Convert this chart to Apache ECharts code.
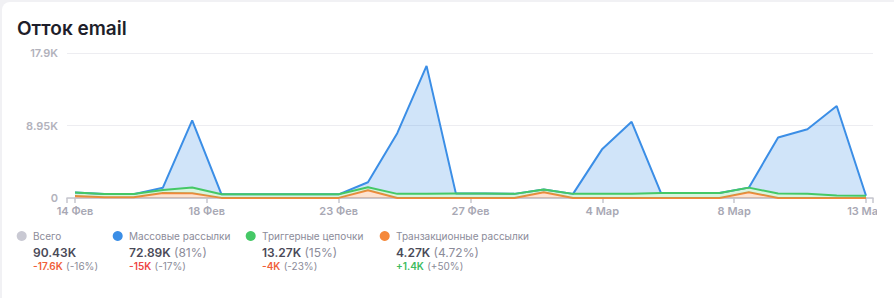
<!DOCTYPE html>
<html><head><meta charset="utf-8">
<script src="https://cdn.jsdelivr.net/npm/echarts@6/dist/echarts.min.js"></script>
<style>
html,body{margin:0;padding:0;width:894px;height:298px;overflow:hidden;background:#f1f1f4;}
#card{position:absolute;left:2px;top:2px;width:892px;height:296px;background:#fff;border-top-left-radius:8px;}
#clip{position:absolute;left:0;top:0;width:877px;height:298px;overflow:hidden;}
#chart{position:absolute;left:0;top:0;width:894px;height:298px;}
</style></head><body><div id="card"></div><div id="clip"><div id="chart"></div></div>
<script>
const dates = ['14 Фев','15 Фев','16 Фев','17 Фев','18 Фев','19 Фев','20 Фев','21 Фев','22 Фев','23 Фев','24 Фев','25 Фев','26 Фев','27 Фев','28 Фев',
  '1 Мар','2 Мар','3 Мар','4 Мар','5 Мар','6 Мар','7 Мар','8 Мар','9 Мар','10 Мар','11 Мар','12 Мар','13 Мар'];
const transValues   = [250,100,90,620,600,15,15,15,15,15,960,10,10,10,10,10,720,10,10,10,10,10,10,720,10,10,10,10];
const triggerValues = [440,400,390,370,690,440,440,440,440,440,370,500,500,560,560,500,320,500,500,500,620,620,620,560,540,500,290,270];
const massValues    = [0,0,0,280,8300,0,0,0,0,0,620,7490,15800,0,0,0,0,0,5550,8900,0,0,0,0,6910,7980,11050,0];
const yTickLabels = ['0','8.95K','17.9K'];
const titleText = 'Отток email';
const legendNames = ['Всего','Массовые рассылки','Триггерные цепочки','Транзакционные рассылки'];
const legendTotals = ['90.43K','72.89K','13.27K','4.27K'];
const legendShares = ['','(81%)','(15%)','(4.72%)'];
const legendDeltas = ['-17.6K','-15K','-4K','+1.4K'];
const legendDeltaPct = ['(-16%)','(-17%)','(-23%)','(+50%)'];

const FONT = 'Inter, "Noto Sans", sans-serif';
const legendColors = ['#c9c9d3','#3b8ee6','#45c866','#f5883a'];
const deltaColors = ['#f0603a','#ee4646','#f0603a','#3dbb5e'];
const legendX = [33, 129, 262, 396];
const Y_MAX = 17900, Y_INT = 8950;
const tickStyle = {color:'#c6c6ce', width:1.5};

const graphic = [{
  type:'text', x:17, y:28,
  style:{text:titleText, fill:'#1e1e2a', fontFamily:FONT, fontSize:19, fontWeight:600, verticalAlign:'middle'}
}];
legendNames.forEach((n,i)=>{
  const x = legendX[i];
  graphic.push({type:'circle', shape:{cx:x-11.3, cy:236, r:5}, style:{fill:legendColors[i]}});
  graphic.push({type:'text', x:x, y:236, style:{text:n, fill:'#8b8b99', fontFamily:FONT, fontSize:10, verticalAlign:'middle'}});
  graphic.push({type:'text', x:x, y:252.5, style:{
    text:'{b|'+legendTotals[i]+'}' + (legendShares[i] ? ' {g|'+legendShares[i]+'}' : ''),
    verticalAlign:'middle',
    rich:{
      b:{fill:'#4a4a58', fontFamily:FONT, fontSize:12, fontWeight:600},
      g:{fill:'#8b8b99', fontFamily:FONT, fontSize:12, fontWeight:400}
    }}});
  graphic.push({type:'text', x:x, y:266, style:{
    text:'{d|'+legendDeltas[i]+'} {g|'+legendDeltaPct[i]+'}',
    verticalAlign:'middle',
    rich:{
      d:{fill:deltaColors[i], fontFamily:FONT, fontSize:10, fontWeight:600},
      g:{fill:'#8b8b99', fontFamily:FONT, fontSize:10, fontWeight:400}
    }}});
});

function areaSeries(name, data, color, fill, z){
  return {name, type:'line', xAxisIndex:1, yAxisIndex:1, stack:'total', data:data,
    showSymbol:false, symbol:'none', z:z,
    lineStyle:{color:color, width:2}, itemStyle:{color:color},
    areaStyle:{color:fill, opacity:1}};
}

const chart = echarts.init(document.getElementById('chart'), null, {renderer:'svg'});
chart.setOption({
  animation:false,
  graphic: graphic,
  grid:[{left:67,right:21,top:53,bottom:100},{left:75,right:28,top:53,bottom:100}],
  xAxis:[
    {gridIndex:0,type:'value',position:'bottom',min:0,max:1,interval:1,
      axisLine:{show:true,lineStyle:tickStyle},
      axisTick:{show:true,length:5,lineStyle:tickStyle},
      axisLabel:{show:false},splitLine:{show:false}},
    {gridIndex:1,type:'category',position:'bottom',data:dates,boundaryGap:false,show:false},
    {gridIndex:1,type:'value',position:'bottom',offset:0,min:0,max:dates.length-1,interval:(dates.length-1)/6,
      axisLine:{show:true,lineStyle:tickStyle},
      axisTick:{show:true,length:5,lineStyle:tickStyle},
      axisLabel:{formatter:v=>dates[Math.floor(v+1e-6)],color:'#a8a8b4',fontSize:11,fontWeight:600,fontFamily:FONT,margin:7,showMinLabel:true,showMaxLabel:true},
      splitLine:{show:false}}
  ],
  yAxis:[
    {gridIndex:0,type:'value',min:0,max:Y_MAX,interval:Y_INT,
      axisLine:{show:false},axisTick:{show:false},
      axisLabel:{formatter:v=>yTickLabels[Math.round(v/Y_INT)],color:'#b2b2bc',fontSize:11,fontWeight:600,fontFamily:FONT,margin:9},
      splitLine:{lineStyle:{color:'#ededf1',width:1}}},
    {gridIndex:1,type:'value',min:0,max:Y_MAX,interval:Y_INT,show:false,splitLine:{show:false}}
  ],
  series:[
    areaSeries('Транзакционные рассылки', transValues, '#f5883a', 'rgba(245,136,58,0.24)', 3),
    areaSeries('Триггерные цепочки', triggerValues, '#45c866', 'rgba(69,200,102,0.2)', 4),
    areaSeries('Массовые рассылки', massValues, '#3b8ee6', 'rgba(59,142,230,0.24)', 2)
  ]
});
</script></body></html>
